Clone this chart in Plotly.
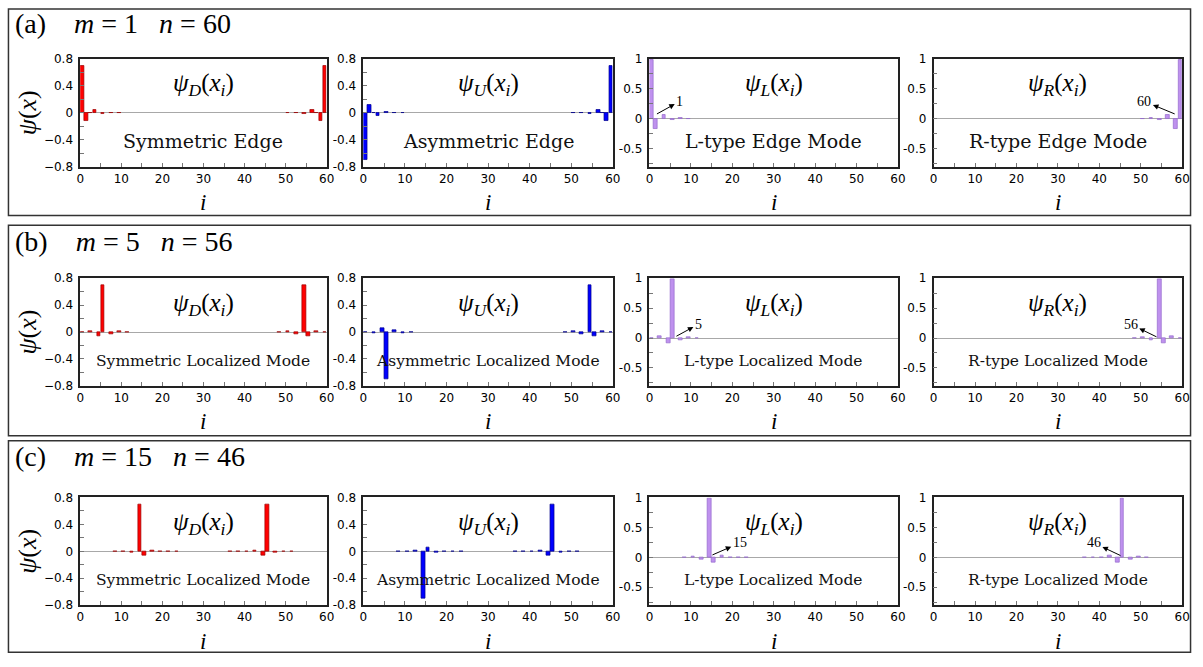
import plotly.graph_objects as go

# ---------------------------------------------------------------- data
sites = list(range(1, 61))

x_tick_vals = [0, 10, 20, 30, 40, 50, 60]
x_tick_text = ["0", "10", "20", "30", "40", "50", "60"]
y_tick_vals_du = [-0.8, -0.4, 0, 0.4, 0.8]
y_tick_text_minus = ["\u22120.8", "\u22120.4", "0", "0.4", "0.8"]
y_tick_text_hyphen = ["-0.8", "-0.4", "0", "0.4", "0.8"]
y_tick_vals_lr = [-0.5, 0, 0.5, 1]
y_tick_text_lr = ["-0.5", "0", "0.5", "1"]

row_tags = ["(a)", "(b)", "(c)"]
m_values = [1, 5, 15]
n_values = [60, 56, 46]
mode_names_edge = ["Symmetric Edge", "Asymmetric Edge", "L-type Edge Mode", "R-type Edge Mode"]
mode_names_loc = ["Symmetric Localized Mode", "Asymmetric Localized Mode",
                  "L-type Localized Mode", "R-type Localized Mode"]

# (a) m = 1, n = 60
psi_D_a = [0.70, -0.12, 0.005, 0.04, 0.0, -0.015, 0.0, 0.005, 0.0, -0.003,
           0.0] + [0.0] * 38 + [
           0.0, -0.003, 0.0, 0.005, 0.0, -0.015, 0.0, 0.04, 0.005, -0.12, 0.70]
psi_U_a = [-0.70, 0.12, 0.005, -0.04, 0.0, 0.015, 0.0, -0.005, 0.0, 0.003,
           0.0] + [0.0] * 38 + [
           0.0, -0.003, 0.0, 0.005, 0.0, -0.015, 0.0, 0.04, -0.005, -0.12, 0.70]
psi_L_a = [0.99, -0.17, 0.0, 0.057, 0.0, -0.021, 0.0, 0.007, 0.0, -0.004,
           0.0] + [0.0] * 49
psi_R_a = [0.0] * 49 + [
           0.0, -0.004, 0.0, 0.007, 0.0, -0.021, 0.0, 0.057, 0.0, -0.17, 0.99]

# (b) m = 5, n = 56
psi_D_b = [-0.005, 0.0, 0.02, 0.0, -0.06, 0.70, 0.0, -0.028, 0.0, 0.01,
           0.0, -0.004, 0.0] + [0.0] * 34 + [
           0.0, -0.004, 0.0, 0.01, 0.0, -0.028, 0.0, 0.70, -0.06, 0.0,
           0.02, 0.0, -0.005]
psi_U_b = [0.005, 0.0, -0.02, 0.0, 0.06, -0.70, 0.0, 0.028, 0.0, -0.01,
           0.0, 0.004, 0.0] + [0.0] * 34 + [
           0.0, -0.004, 0.0, 0.01, 0.0, -0.028, 0.0, 0.70, -0.06, 0.0,
           0.02, 0.0, -0.005]
psi_L_b = [-0.007, 0.0, 0.028, 0.0, -0.085, 0.99, 0.0, -0.04, 0.0, 0.014,
           0.0, -0.006, 0.0] + [0.0] * 47
psi_R_b = [0.0] * 47 + [
           0.0, -0.006, 0.0, 0.014, 0.0, -0.04, 0.0, 0.99, -0.085, 0.0,
           0.028, 0.0, -0.007]

# (c) m = 15, n = 46
psi_D_c = [0.0] * 6 + [
           0.0, 0.0, -0.002, 0.0, 0.005, 0.0, -0.02, 0.0, 0.70, -0.06,
           0.0, 0.02, 0.0, -0.005, 0.0, 0.002, 0.0, -0.001] + [0.0] * 12 + [
           -0.001, 0.0, 0.002, 0.0, -0.005, 0.0, 0.02, 0.0, -0.06, 0.70,
           0.0, -0.02, 0.0, 0.005, 0.0, -0.002, 0.0, 0.0] + [0.0] * 6
psi_U_c = [0.0] * 6 + [
           0.0, 0.0, 0.002, 0.0, -0.005, 0.0, 0.02, 0.0, -0.70, 0.06,
           0.0, -0.02, 0.0, 0.005, 0.0, -0.002, 0.0, 0.001] + [0.0] * 12 + [
           -0.001, 0.0, 0.002, 0.0, -0.005, 0.0, 0.02, 0.0, -0.06, 0.70,
           0.0, -0.02, 0.0, 0.005, 0.0, -0.002, 0.0, 0.0] + [0.0] * 6
psi_L_c = [0.0] * 6 + [
           0.0, 0.0, -0.003, 0.0, 0.007, 0.0, -0.028, 0.0, 0.99, -0.085,
           0.0, 0.028, 0.0, -0.007, 0.0, 0.003, 0.0, -0.001] + [0.0] * 36
psi_R_c = [0.0] * 36 + [
           -0.001, 0.0, 0.003, 0.0, -0.007, 0.0, 0.028, 0.0, -0.085, 0.99,
           0.0, -0.028, 0.0, 0.007, 0.0, -0.003, 0.0, 0.0] + [0.0] * 6

series = [
    [psi_D_a, psi_U_a, psi_L_a, psi_R_a],
    [psi_D_b, psi_U_b, psi_L_b, psi_R_b],
    [psi_D_c, psi_U_c, psi_L_c, psi_R_c],
]
psi_names = ["D", "U", "L", "R"]

# arrow labels (site number, label position, arrow foot) for L and R panels
arrow_L = [(1, (7.3, 0.29), (1.8, 0.08)), (5, (11.8, 0.23), (6.5, 0.03)), (15, (21.8, 0.24), (15.2, 0.04))]
arrow_R = [(60, (50.9, 0.29), (58.2, 0.08)), (56, (47.6, 0.23), (53.8, 0.02)), (46, (38.7, 0.24), (45.1, 0.03))]

# ---------------------------------------------------------------- layout geometry (pixels)
W, H = 1203, 667
col_px = [(77, 326), (363, 615), (652, 903), (939, 1190)]
row_px = [(53, 163), (277, 387), (501, 611)]
box_px = [(2, 213), (223, 438), (443, 659)]
tag_y_px = [17, 240, 459]

bar_fill = ["#ff0000", "#0000ff", "#bf91ee", "#bf91ee"]
bar_edge = ["#9a0000", "#00008a", "#9468cc", "#9468cc"]

SERIF = "Liberation Serif, Times New Roman, serif"
TEXT_SERIF = "DejaVu Serif, serif"
SANS = "DejaVu Sans, sans-serif"


def px_x(p):
    return p / W


def px_y(p):
    return 1 - p / H


fig = go.Figure()
annotations = []
shapes = []

for r in range(3):
    for c in range(4):
        k = r * 4 + c + 1
        xa = "x" if k == 1 else f"x{k}"
        ya = "y" if k == 1 else f"y{k}"
        vals = series[r][c]
        xs = [s for s, v in zip(sites, vals) if v != 0]
        ys = [v for v in vals if v != 0]
        fig.add_trace(go.Bar(
            x=xs, y=ys, xaxis=xa, yaxis=ya,
            width=0.9, offset=-0.95,
            marker=dict(color=bar_fill[c], line=dict(color=bar_edge[c], width=0.7)),
            showlegend=False, hoverinfo="x+y",
        ))

        x0, x1 = col_px[c]
        yt, yb = row_px[r]
        xkey = "xaxis" if k == 1 else f"xaxis{k}"
        ykey = "yaxis" if k == 1 else f"yaxis{k}"

        fig.layout[xkey] = dict(
            domain=[px_x(x0), px_x(x1)], anchor=ya, range=[0, 60],
            tickmode="array", tickvals=x_tick_vals, ticktext=x_tick_text,
            ticks="inside", ticklen=4, tickcolor="#777", tickwidth=1,
            minor=dict(tickmode="array", tickvals=[5, 15, 25, 35, 45, 55],
                       ticks="inside", ticklen=4, tickcolor="#777"),
            showline=True, linecolor="#222", linewidth=1.6, mirror=True,
            showgrid=False, zeroline=False, ticklabelstandoff=0,
            tickfont=dict(family=SANS, size=12, color="#000"),
            fixedrange=True,
        )
        if c < 2:
            yvals, ytext = y_tick_vals_du, (y_tick_text_minus if c == 0 else y_tick_text_hyphen)
            yrange = [-0.8, 0.8]
            yminor = [-0.6, -0.2, 0.2, 0.6]
        else:
            yvals, ytext = y_tick_vals_lr, y_tick_text_lr
            yrange = [-0.8, 1.0]
            yminor = [-0.75, -0.25, 0.25, 0.75]
        yaxis = dict(
            domain=[px_y(yb), px_y(yt)], anchor=xa, range=yrange,
            tickmode="array", tickvals=yvals, ticktext=ytext,
            ticks="inside", ticklen=4, tickcolor="#777", tickwidth=1,
            minor=dict(tickmode="array", tickvals=yminor, ticks="inside", ticklen=4, tickcolor="#777"),
            showline=True, linecolor="#222", linewidth=1.6, mirror=True,
            showgrid=False, zeroline=True, zerolinecolor="#a8a8a8", zerolinewidth=1,
            ticklabelstandoff=3,
            tickfont=dict(family=SANS, size=12, color="#000"),
            fixedrange=True,
        )
        if c == 0:
            yaxis["title"] = dict(text="<i>\u03c8</i>(<i>x</i>)",
                                  font=dict(family=SERIF, size=26, color="#000"), standoff=0)
        fig.layout[ykey] = yaxis

        # site index label under the axis
        annotations.append(dict(
            xref=f"{xa} domain", yref=f"{ya} domain", x=0.5, y=-0.2,
            xanchor="center", yanchor="top", showarrow=False,
            text="<i>i</i>", font=dict(family=SERIF, size=23, color="#000"),
        ))
        # wavefunction name inside the panel
        annotations.append(dict(
            xref=f"{xa} domain", yref=f"{ya} domain", x=0.5, y=0.76,
            xanchor="center", yanchor="middle", showarrow=False,
            text=f"<i>\u03c8</i><sub><i>{psi_names[c]}</i></sub>(<i>x</i><sub><i>i</i></sub>)",
            font=dict(family=SERIF, size=25, color="#000"),
        ))
        # mode description
        if r == 0:
            desc, dsize = mode_names_edge[c], 19
        else:
            desc, dsize = mode_names_loc[c], 15.5
        annotations.append(dict(
            xref=f"{xa} domain", yref=f"{ya} domain", x=0.5, y=0.235,
            xanchor="center", yanchor="middle", showarrow=False,
            text=desc, font=dict(family=TEXT_SERIF, size=dsize, color="#111"),
        ))
        # site arrows
        if c >= 2:
            site, (lx, ly), (fx, fy) = (arrow_L if c == 2 else arrow_R)[r]
            annotations.append(dict(
                xref=xa, yref=ya, axref=xa, ayref=ya,
                x=fx, y=fy, ax=lx, ay=ly,
                text=str(site), showarrow=True, arrowside="start",
                startarrowhead=2, startarrowsize=1.1, arrowwidth=1, arrowcolor="#000",
                startstandoff=0, standoff=0,
                font=dict(family=SERIF, size=14, color="#000"),
            ))

    # row tag and parameters
    annotations.append(dict(
        xref="paper", yref="paper", x=px_x(9), y=px_y(tag_y_px[r]),
        xanchor="left", yanchor="middle", showarrow=False,
        text=f"{row_tags[r]}&nbsp;&nbsp;&nbsp;&nbsp;<i>m</i> = {m_values[r]}&nbsp;&nbsp;&nbsp;<i>n</i> = {n_values[r]}",
        font=dict(family=SERIF, size=28, color="#000"),
    ))
    # frame around the row
    top, bot = box_px[r]
    shapes.append(dict(
        type="rect", xref="paper", yref="paper",
        x0=px_x(4.5), x1=px_x(1198.5), y0=px_y(bot), y1=px_y(top),
        line=dict(color="#333", width=1.5), fillcolor="rgba(0,0,0,0)", layer="below",
    ))

fig.update_layout(
    width=W, height=H,
    margin=dict(l=0, r=0, t=0, b=0),
    paper_bgcolor="#ffffff", plot_bgcolor="#ffffff",
    annotations=annotations, shapes=shapes,
    bargap=0, showlegend=False,
)

fig.write_html("out.html", config={"displayModeBar": False})
